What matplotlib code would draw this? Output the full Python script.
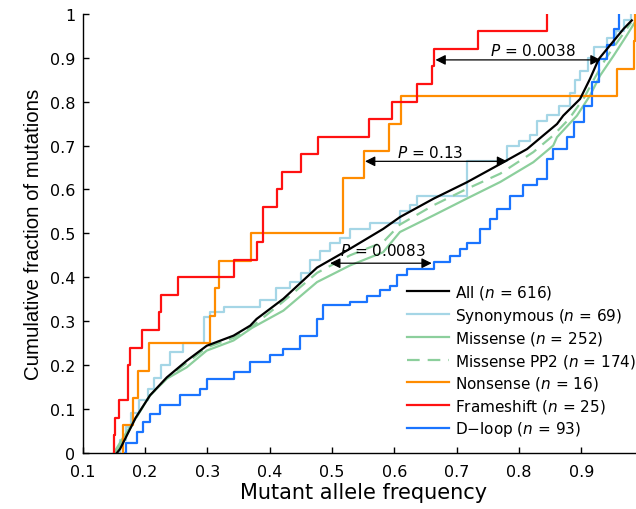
import numpy as np
import matplotlib
matplotlib.use('Agg')
import matplotlib.pyplot as plt

plt.rcParams['font.family'] = ['DejaVu Sans']
plt.rcParams['mathtext.fontset'] = 'dejavusans'

# Frameshift (n = 25) and Nonsense (n = 16): individual allele frequencies
frameshift = [0.150, 0.152, 0.158, 0.173, 0.173, 0.176, 0.195, 0.223, 0.225, 0.253,
              0.342, 0.380, 0.389, 0.390, 0.411, 0.419, 0.450, 0.477, 0.560, 0.596,
              0.637, 0.660, 0.664, 0.735, 0.845]
nonsense = [0.165, 0.180, 0.188, 0.207, 0.304, 0.313, 0.319, 0.370, 0.517, 0.518,
            0.552, 0.592, 0.610, 0.958, 0.984, 0.986]

# curves for the larger groups (x, cumulative fraction)
all_x = [0.155, 0.160, 0.185, 0.208, 0.235, 0.267, 0.299, 0.342, 0.369, 0.379, 0.422,
         0.476, 0.529, 0.582, 0.609, 0.663, 0.716, 0.770, 0.813, 0.839, 0.861, 0.871,
         0.898, 0.914, 0.928, 0.946, 0.968, 0.981]
all_y = [0, 0.009, 0.080, 0.131, 0.172, 0.210, 0.244, 0.267, 0.290, 0.305, 0.351,
         0.422, 0.465, 0.510, 0.537, 0.579, 0.616, 0.658, 0.692, 0.723, 0.749, 0.768,
         0.806, 0.852, 0.897, 0.928, 0.966, 0.985]

syn_x = [0.152, 0.160, 0.170, 0.178, 0.190, 0.205, 0.215, 0.225, 0.240, 0.261, 0.294,
         0.305, 0.326, 0.385, 0.410, 0.433, 0.450, 0.465, 0.480, 0.497, 0.513, 0.529,
         0.561, 0.609, 0.625, 0.636, 0.716, 0.781, 0.800, 0.818, 0.829, 0.845, 0.865,
         0.882, 0.890, 0.898, 0.910, 0.920, 0.941, 0.955, 0.968, 0.979]
syn_y = [0, 0.030, 0.060, 0.090, 0.120, 0.145, 0.170, 0.200, 0.230, 0.250, 0.310,
         0.320, 0.333, 0.348, 0.375, 0.390, 0.410, 0.440, 0.460, 0.478, 0.490, 0.510,
         0.523, 0.550, 0.565, 0.586, 0.664, 0.700, 0.710, 0.725, 0.755, 0.770, 0.790,
         0.820, 0.850, 0.870, 0.900, 0.925, 0.945, 0.960, 0.985, 1.0]

mis_x = [0.150, 0.165, 0.181, 0.208, 0.235, 0.267, 0.299, 0.342, 0.372, 0.422, 0.476,
         0.529, 0.582, 0.609, 0.663, 0.716, 0.770, 0.823, 0.855, 0.861, 0.893, 0.914,
         0.930, 0.952, 0.973, 0.986, 0.990]
mis_y = [0, 0.035, 0.070, 0.131, 0.169, 0.195, 0.233, 0.256, 0.285, 0.324, 0.389,
         0.427, 0.457, 0.503, 0.541, 0.579, 0.617, 0.662, 0.700, 0.719, 0.768, 0.814,
         0.859, 0.905, 0.951, 0.981, 1.0]

pp2_x = [0.152, 0.170, 0.190, 0.208, 0.235, 0.267, 0.299, 0.342, 0.372, 0.422, 0.476,
         0.529, 0.582, 0.609, 0.663, 0.716, 0.770, 0.823, 0.855, 0.880, 0.905, 0.920,
         0.940, 0.960, 0.980]
pp2_y = [0, 0.040, 0.090, 0.131, 0.170, 0.205, 0.240, 0.262, 0.288, 0.345, 0.410,
         0.450, 0.480, 0.520, 0.564, 0.601, 0.636, 0.685, 0.723, 0.760, 0.810, 0.850,
         0.900, 0.940, 0.980]

dloop_x = [0.168, 0.170, 0.187, 0.197, 0.208, 0.224, 0.256, 0.288, 0.299, 0.342, 0.369,
           0.400, 0.422, 0.449, 0.476, 0.486, 0.529, 0.556, 0.577, 0.593, 0.604, 0.620,
           0.663, 0.690, 0.706, 0.716, 0.738, 0.754, 0.765, 0.786, 0.807, 0.829, 0.845,
           0.855, 0.877, 0.888, 0.904, 0.917, 0.928, 0.941, 0.952, 0.960]
dloop_y = [0, 0.023, 0.047, 0.070, 0.089, 0.108, 0.131, 0.146, 0.169, 0.184, 0.207,
           0.222, 0.237, 0.267, 0.305, 0.336, 0.343, 0.358, 0.370, 0.381, 0.404, 0.419,
           0.434, 0.449, 0.465, 0.478, 0.510, 0.533, 0.556, 0.586, 0.609, 0.624, 0.670,
           0.692, 0.719, 0.753, 0.791, 0.844, 0.897, 0.928, 0.966, 1.0]


def ecdf(vals):
    v = np.sort(np.asarray(vals))
    y = np.arange(1, len(v) + 1) / len(v)
    return np.concatenate([[v[0]], v]), np.concatenate([[0], y])


fig = plt.figure(figsize=(6.36, 5.10), dpi=100)
ax = fig.add_axes([0.130, 0.110, 0.882, 0.861])

lw = 1.6
ax.plot(syn_x, syn_y, drawstyle='steps-post', color='#a5d6e6', lw=lw,
        label='Synonymous ($n$ = 69)', zorder=2)
ax.plot(mis_x, mis_y, color='#8ccf9c', lw=lw, label='Missense ($n$ = 252)', zorder=2)
ax.plot(pp2_x, pp2_y, color='#8ccf9c', lw=lw, dashes=(5.7, 3.6),
        label='Missense PP2 ($n$ = 174)', zorder=2)
ax.plot(dloop_x, dloop_y, drawstyle='steps-post', color='#1a74ff', lw=lw,
        label='D\u2212loop ($n$ = 93)', zorder=3)
fx, fy = ecdf(nonsense)
ax.plot(fx, fy, drawstyle='steps-post', color='#ff8c00', lw=lw,
        label='Nonsense ($n$ = 16)', zorder=3)
fx, fy = ecdf(frameshift)
ax.plot(fx, fy, drawstyle='steps-post', color='#ff1111', lw=lw,
        label='Frameshift ($n$ = 25)', zorder=4)
ax.plot(all_x, all_y, color='black', lw=lw, label='All ($n$ = 616)', zorder=5)

# p-value arrows
arrows = [(0.666, 0.931, 0.895, 0.823, 0.918, '$P$ = 0.0038'),
          (0.553, 0.781, 0.664, 0.657, 0.686, '$P$ = 0.13'),
          (0.497, 0.660, 0.432, 0.582, 0.461, '$P$ = 0.0083')]
for x0, x1, yy, tx, ty, txt in arrows:
    ax.annotate('', xy=(x1, yy), xytext=(x0, yy),
                arrowprops=dict(arrowstyle='<|-|>', color='black', lw=0.9,
                                mutation_scale=15, shrinkA=0, shrinkB=0), zorder=6)
    ax.text(tx, ty, txt, ha='center', va='center', fontsize=11, zorder=6)

ax.set_xlim(0.1, 1.0)
ax.set_ylim(0, 1)
ax.set_xticks(np.arange(1, 10) / 10)
ax.set_xticklabels(['0.1', '0.2', '0.3', '0.4', '0.5', '0.6', '0.7', '0.8', '0.9'])
ax.set_yticks(np.arange(0, 11) / 10)
ax.set_yticklabels(['0', '0.1', '0.2', '0.3', '0.4', '0.5', '0.6', '0.7', '0.8', '0.9', '1'])
ax.tick_params(direction='in', length=4.5, width=1, labelsize=11.5)
ax.tick_params(axis='x', pad=8)
ax.tick_params(axis='y', pad=5.5)
for s in ['top', 'right']:
    ax.spines[s].set_visible(False)
ax.spines['left'].set_linewidth(1)
ax.spines['bottom'].set_linewidth(1)
ax.set_xlabel('Mutant allele frequency', fontsize=15, labelpad=2)
ax.set_ylabel('Cumulative fraction of mutations', fontsize=14.7, labelpad=5,
              family=['Liberation Sans', 'DejaVu Sans'])

handles, labels = ax.get_legend_handles_labels()
order = [6, 0, 1, 2, 4, 5, 3]
ax.legend([handles[i] for i in order], [labels[i] for i in order],
          loc='upper left', bbox_to_anchor=(0.578, 0.387), frameon=False,
          fontsize=11, handlelength=2.75, handletextpad=0.4, labelspacing=0.3,
          borderpad=0, borderaxespad=0)

fig.savefig('out.png', dpi=100)
